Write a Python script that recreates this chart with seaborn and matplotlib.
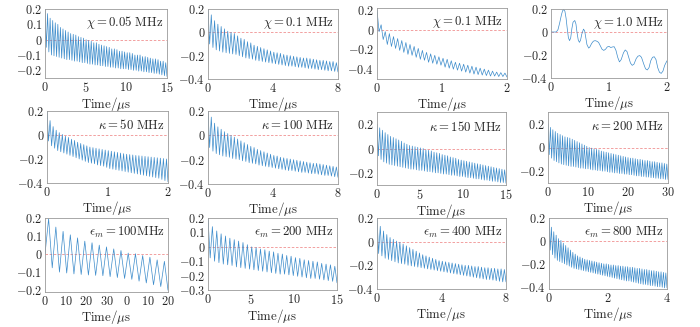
import numpy as np
import pandas as pd
import matplotlib
matplotlib.use("Agg")
import matplotlib.pyplot as plt
import seaborn as sns

# ---------------- signal extrema (successive peak / trough values) ----------------
chi005_peaks = [0.2, 0.17, 0.14, 0.125, 0.11, 0.1, 0.08, 0.07,
                0.06, 0.05, 0.04, 0.035, 0.03, 0.02, 0.015, 0.01,
                0.0, -0.005, -0.01, -0.02, -0.02, -0.03, -0.035, -0.04,
                -0.045, -0.05, -0.06, -0.06, -0.065, -0.075, -0.075, -0.08,
                -0.085, -0.085, -0.09, -0.1, -0.1, -0.1, -0.11, -0.11,
                -0.115, -0.12, -0.125, -0.125, -0.13, -0.14, -0.14, -0.15]
chi005_troughs = [-0.05, -0.08, -0.1, -0.105, -0.11, -0.115, -0.12, -0.125,
                  -0.13, -0.13, -0.135, -0.14, -0.14, -0.145, -0.15, -0.15,
                  -0.155, -0.16, -0.16, -0.165, -0.165, -0.17, -0.17, -0.175,
                  -0.175, -0.18, -0.18, -0.185, -0.185, -0.19, -0.19, -0.19,
                  -0.195, -0.195, -0.2, -0.2, -0.205, -0.205, -0.21, -0.21,
                  -0.215, -0.215, -0.22, -0.22, -0.225, -0.23, -0.235, -0.24]

chi01a_peaks = [0.2, 0.15, 0.10, 0.07, 0.05, 0.03, 0.01, 0.0, -0.01, -0.03,
                -0.05, -0.06, -0.08, -0.09, -0.11, -0.12, -0.13, -0.14, -0.15, -0.16,
                -0.17, -0.175, -0.18, -0.19, -0.195, -0.2, -0.205, -0.21, -0.215, -0.22,
                -0.22, -0.225, -0.23, -0.235, -0.24, -0.24, -0.245, -0.25, -0.25, -0.26]
chi01a_troughs = [-0.1, -0.13, -0.15, -0.16, -0.17, -0.175, -0.18, -0.185, -0.19, -0.2,
                  -0.21, -0.22, -0.225, -0.23, -0.24, -0.245, -0.25, -0.255, -0.26, -0.265,
                  -0.27, -0.275, -0.28, -0.285, -0.29, -0.29, -0.295, -0.3, -0.3, -0.305,
                  -0.31, -0.31, -0.315, -0.32, -0.32, -0.325, -0.33, -0.33, -0.335, -0.34]

chi01b_peaks = [0.2, 0.05, -0.02, -0.04, -0.07, -0.09, -0.11, -0.13,
                -0.15, -0.17, -0.19, -0.21, -0.23, -0.245, -0.26, -0.275,
                -0.29, -0.3, -0.315, -0.33, -0.34, -0.35, -0.36, -0.37,
                -0.38, -0.39, -0.4, -0.41, -0.42, -0.43, -0.435, -0.44]
chi01b_troughs = [-0.02, -0.1, -0.15, -0.17, -0.19, -0.21, -0.23, -0.25,
                  -0.26, -0.28, -0.3, -0.31, -0.33, -0.34, -0.35, -0.36,
                  -0.38, -0.39, -0.4, -0.41, -0.42, -0.43, -0.44, -0.45,
                  -0.455, -0.46, -0.465, -0.47, -0.47, -0.475, -0.475, -0.48]

chi10_time = [0, 0.05, 0.09, 0.12, 0.15, 0.18, 0.2, 0.22, 0.24, 0.26, 0.28, 0.3, 0.32,
              0.34, 0.36, 0.38, 0.41, 0.43, 0.45, 0.47, 0.49, 0.51, 0.53, 0.56, 0.58,
              0.6, 0.62, 0.65, 0.67, 0.7, 0.73, 0.76, 0.79, 0.82, 0.85, 0.88, 0.91,
              0.94, 0.97, 1.0, 1.03, 1.06, 1.09, 1.12, 1.15, 1.18, 1.21, 1.25, 1.28,
              1.31, 1.34, 1.37, 1.4, 1.43, 1.47, 1.5, 1.53, 1.56, 1.6, 1.63, 1.66,
              1.69, 1.72, 1.75, 1.78, 1.81, 1.84, 1.87, 1.9, 1.93, 1.96, 2.0]
chi10_signal = [0, 0, 0.0, 0.02, 0.08, 0.15, 0.185, 0.195, 0.18, 0.12, 0.03, -0.05, -0.075,
                -0.05, 0.03, 0.085, 0.1, 0.07, -0.01, -0.07, -0.09, -0.07, -0.02, 0.025, 0.01,
                -0.05, -0.11, -0.14, -0.13, -0.1, -0.08, -0.075, -0.08, -0.09, -0.12, -0.15, -0.16,
                -0.15, -0.13, -0.125, -0.135, -0.13, -0.128, -0.16, -0.22, -0.26, -0.24, -0.18, -0.156,
                -0.17, -0.22, -0.27, -0.29, -0.28, -0.23, -0.21, -0.205, -0.22, -0.28, -0.32, -0.33,
                -0.31, -0.25, -0.22, -0.215, -0.24, -0.31, -0.35, -0.36, -0.34, -0.29, -0.25]

kap50_peaks = [0.2, 0.12, 0.07, 0.04, 0.02, 0.005, -0.01, -0.02, -0.035, -0.045,
               -0.06, -0.07, -0.08, -0.09, -0.1, -0.105, -0.11, -0.115, -0.12, -0.125,
               -0.13, -0.135, -0.14, -0.145, -0.15, -0.155, -0.16, -0.163, -0.166, -0.17,
               -0.172, -0.175, -0.178, -0.181, -0.184, -0.187, -0.19, -0.193, -0.196, -0.2]
kap50_troughs = [-0.05, -0.09, -0.11, -0.13, -0.14, -0.15, -0.16, -0.17, -0.18, -0.19,
                 -0.2, -0.21, -0.22, -0.23, -0.235, -0.24, -0.25, -0.255, -0.26, -0.27,
                 -0.28, -0.285, -0.29, -0.295, -0.3, -0.305, -0.31, -0.315, -0.32, -0.325,
                 -0.33, -0.335, -0.34, -0.345, -0.35, -0.355, -0.36, -0.37, -0.38, -0.39]

kap100_peaks = [0.2, 0.15, 0.1, 0.07, 0.05, 0.03, 0.015, 0.0, -0.015, -0.03,
                -0.045, -0.06, -0.075, -0.09, -0.1, -0.115, -0.125, -0.135, -0.145, -0.155,
                -0.165, -0.17, -0.18, -0.185, -0.19, -0.195, -0.2, -0.205, -0.21, -0.215,
                -0.22, -0.225, -0.23, -0.23, -0.235, -0.24, -0.245, -0.25, -0.255, -0.26]
kap100_troughs = [-0.1, -0.13, -0.15, -0.16, -0.17, -0.175, -0.18, -0.19, -0.195, -0.2,
                  -0.21, -0.215, -0.225, -0.23, -0.235, -0.245, -0.25, -0.255, -0.26, -0.265,
                  -0.27, -0.275, -0.28, -0.285, -0.29, -0.29, -0.295, -0.3, -0.305, -0.305,
                  -0.31, -0.315, -0.315, -0.32, -0.325, -0.33, -0.33, -0.335, -0.34, -0.345]

kap150_peaks = [0.2, 0.17, 0.15, 0.13, 0.115, 0.1, 0.09, 0.08,
                0.07, 0.06, 0.045, 0.035, 0.025, 0.02, 0.015, 0.01,
                0.005, 0.0, -0.01, -0.015, -0.02, -0.03, -0.035, -0.04,
                -0.05, -0.055, -0.06, -0.07, -0.075, -0.08, -0.09, -0.095,
                -0.1, -0.105, -0.11, -0.115, -0.12, -0.125, -0.13, -0.135,
                -0.14, -0.145, -0.15, -0.155, -0.16, -0.165, -0.17, -0.175]
kap150_troughs = [-0.06, -0.09, -0.11, -0.12, -0.13, -0.135, -0.14, -0.145,
                  -0.15, -0.155, -0.16, -0.165, -0.17, -0.17, -0.175, -0.18,
                  -0.18, -0.185, -0.19, -0.19, -0.195, -0.2, -0.2, -0.205,
                  -0.21, -0.21, -0.215, -0.22, -0.22, -0.225, -0.23, -0.23,
                  -0.235, -0.24, -0.24, -0.245, -0.25, -0.25, -0.255, -0.26,
                  -0.26, -0.265, -0.27, -0.27, -0.275, -0.28, -0.28, -0.285]

kap200_peaks = [0.2, 0.17, 0.15, 0.135, 0.12, 0.11, 0.1, 0.09, 0.085, 0.08,
                0.07, 0.06, 0.05, 0.04, 0.03, 0.02, 0.01, 0.0, -0.005, -0.01,
                -0.015, -0.02, -0.03, -0.035, -0.04, -0.045, -0.05, -0.055, -0.06, -0.065,
                -0.07, -0.075, -0.08, -0.085, -0.09, -0.09, -0.095, -0.1, -0.1, -0.105,
                -0.11, -0.11, -0.115, -0.12, -0.12, -0.125, -0.13, -0.13, -0.135, -0.14]
kap200_troughs = [-0.06, -0.09, -0.11, -0.12, -0.13, -0.14, -0.145, -0.15, -0.155, -0.16,
                  -0.16, -0.165, -0.17, -0.175, -0.175, -0.18, -0.18, -0.185, -0.19, -0.19,
                  -0.195, -0.195, -0.2, -0.2, -0.205, -0.21, -0.21, -0.215, -0.215, -0.22,
                  -0.22, -0.225, -0.225, -0.23, -0.23, -0.235, -0.24, -0.24, -0.245, -0.245,
                  -0.25, -0.25, -0.255, -0.255, -0.26, -0.26, -0.265, -0.265, -0.27, -0.27]

eps100_signal = [0.0,
                 0.196, -0.076, 0.15, -0.1, 0.126, -0.105, 0.107, -0.11, 0.09, -0.113,
                 0.072, -0.116, 0.063, -0.118, 0.05, -0.12, 0.04, -0.125, 0.029, -0.13,
                 0.02, -0.135, 0.006, -0.14, 0.002, -0.15, -0.008, -0.16, -0.017, -0.17,
                 -0.032, -0.18, -0.04, -0.2]

eps200_peaks = [0.2, 0.14, 0.11, 0.09, 0.075, 0.06, 0.05, 0.04, 0.03, 0.015,
                0.0, -0.005, -0.015, -0.02, -0.03, -0.035, -0.045, -0.05, -0.06, -0.065,
                -0.075, -0.08, -0.09, -0.095, -0.1, -0.105, -0.115, -0.12, -0.125, -0.135]
eps200_troughs = [-0.077, -0.1, -0.11, -0.12, -0.125, -0.13, -0.14, -0.145, -0.15, -0.155,
                  -0.16, -0.165, -0.17, -0.175, -0.18, -0.185, -0.19, -0.19, -0.195, -0.2,
                  -0.205, -0.21, -0.215, -0.22, -0.22, -0.225, -0.23, -0.235, -0.24, -0.25]

eps400_peaks = [0.2, 0.13, 0.09, 0.06, 0.035, 0.02, 0.005, -0.005, -0.02, -0.035,
                -0.05, -0.065, -0.08, -0.095, -0.11, -0.12, -0.13, -0.14, -0.15, -0.16,
                -0.165, -0.17, -0.175, -0.18, -0.185, -0.19, -0.195, -0.2, -0.2, -0.205,
                -0.21, -0.21, -0.215, -0.22, -0.22, -0.225, -0.225, -0.23, -0.23, -0.235]
eps400_troughs = [-0.1, -0.12, -0.14, -0.15, -0.16, -0.17, -0.18, -0.185, -0.19, -0.2,
                  -0.205, -0.21, -0.215, -0.22, -0.225, -0.23, -0.235, -0.24, -0.245, -0.25,
                  -0.255, -0.26, -0.265, -0.27, -0.275, -0.28, -0.285, -0.29, -0.295, -0.3,
                  -0.305, -0.31, -0.315, -0.32, -0.32, -0.325, -0.33, -0.335, -0.34, -0.34]

eps800_peaks = [0.2, 0.12, 0.08, 0.05, 0.02, 0.005, -0.02, -0.04, -0.06, -0.08,
                -0.1, -0.115, -0.13, -0.14, -0.15, -0.16, -0.165, -0.17, -0.175, -0.18,
                -0.185, -0.19, -0.195, -0.2, -0.2, -0.205, -0.21, -0.21, -0.215, -0.215,
                -0.22, -0.22, -0.225, -0.225, -0.23, -0.23, -0.235, -0.24, -0.24, -0.245,
                -0.25, -0.25, -0.255, -0.26, -0.26, -0.265, -0.27, -0.27, -0.275, -0.28]
eps800_troughs = [-0.08, -0.12, -0.15, -0.17, -0.18, -0.19, -0.2, -0.21, -0.22, -0.23,
                  -0.24, -0.245, -0.25, -0.255, -0.26, -0.265, -0.27, -0.275, -0.28, -0.285,
                  -0.29, -0.295, -0.3, -0.305, -0.31, -0.315, -0.32, -0.325, -0.33, -0.335,
                  -0.34, -0.345, -0.35, -0.35, -0.355, -0.36, -0.365, -0.37, -0.375, -0.38,
                  -0.38, -0.385, -0.39, -0.39, -0.395, -0.4, -0.4, -0.405, -0.41, -0.41]

# ---------------- panel annotations and axes ----------------
panel_labels = [r"$\chi=0.05\ \mathrm{MHz}$", r"$\chi=0.1\ \mathrm{MHz}$",
                r"$\chi=0.1\ \mathrm{MHz}$", r"$\chi=1.0\ \mathrm{MHz}$",
                r"$\kappa=50\ \mathrm{MHz}$", r"$\kappa=100\ \mathrm{MHz}$",
                r"$\kappa=150\ \mathrm{MHz}$", r"$\kappa=200\ \mathrm{MHz}$",
                r"$\epsilon_m=100\mathrm{MHz}$", r"$\epsilon_m=200\ \mathrm{MHz}$",
                r"$\epsilon_m=400\ \mathrm{MHz}$", r"$\epsilon_m=800\ \mathrm{MHz}$"]
time_spans = [15, 8, 2, 2, 2, 8, 15, 30, 20, 15, 8, 4]
x_ticks = [[0, 5, 10, 15], [0, 4, 8], [0, 1, 2], [0, 1, 2],
           [0, 1, 2], [0, 4, 8], [0, 5, 10, 15], [0, 10, 20, 30],
           None, [0, 5, 10, 15], [0, 4, 8], [0, 2, 4]]
eps100_xtick_labels = ["0", "10", "20", "30", "0", "10", "20"]
y_ticks = [[-0.2, -0.1, 0, 0.1, 0.2], [-0.4, -0.2, 0, 0.2], [-0.4, -0.2, 0, 0.2], [-0.4, -0.2, 0, 0.2],
           [-0.4, -0.2, 0, 0.2], [-0.4, -0.2, 0, 0.2], [-0.2, 0, 0.2], [-0.2, 0, 0.2],
           [-0.2, -0.1, 0, 0.1, 0.2], [-0.3, -0.2, -0.1, 0, 0.1, 0.2], [-0.4, -0.2, 0, 0.2], [-0.4, -0.2, 0, 0.2]]
y_limits = [(-0.25, 0.2), (-0.4, 0.2), (-0.5, 0.22), (-0.4, 0.2),
            (-0.4, 0.2), (-0.4, 0.2), (-0.3, 0.3), (-0.3, 0.3),
            (-0.21, 0.2), (-0.3, 0.2), (-0.4, 0.2), (-0.42, 0.2)]


def sawtooth(peaks, troughs, span):
    y = np.empty(len(peaks) + len(troughs))
    y[0::2] = peaks
    y[1::2] = troughs
    return np.linspace(0, span, y.size), y


curves = [
    sawtooth(chi005_peaks, chi005_troughs, time_spans[0]),
    sawtooth(chi01a_peaks, chi01a_troughs, time_spans[1]),
    sawtooth(chi01b_peaks, chi01b_troughs, time_spans[2]),
    (np.array(chi10_time), np.array(chi10_signal)),
    sawtooth(kap50_peaks, kap50_troughs, time_spans[4]),
    sawtooth(kap100_peaks, kap100_troughs, time_spans[5]),
    sawtooth(kap150_peaks, kap150_troughs, time_spans[6]),
    sawtooth(kap200_peaks, kap200_troughs, time_spans[7]),
    (np.linspace(0, time_spans[8], len(eps100_signal)), np.array(eps100_signal)),
    sawtooth(eps200_peaks, eps200_troughs, time_spans[9]),
    sawtooth(eps400_peaks, eps400_troughs, time_spans[10]),
    sawtooth(eps800_peaks, eps800_troughs, time_spans[11]),
]

# ---------------- styling ----------------
sns.set_style("white")
plt.rcParams["mathtext.fontset"] = "cm"
plt.rcParams["font.family"] = ["DejaVu Serif"]

W, H = 700, 327
# axes boxes in pixels: left, top, right, bottom
boxes = [(45, 9, 167, 78), (208, 9, 338, 79), (377, 8, 507, 79), (551, 9, 667, 78),
         (47, 111, 168, 183), (208, 111, 338, 184), (377, 112, 506, 185), (548, 112, 668, 183),
         (45, 218, 168, 292), (208, 218, 337, 290), (377, 218, 506, 289), (549, 218, 667, 289)]

LINE = "#3d8ccb"
ZERO = "#f09090"
FRAME = "#9a9a9a"


def fmt(v):
    return "$0$" if v == 0 else f"${v:g}$"


fig = plt.figure(figsize=(W / 100, H / 100), dpi=100)
for i, (l, t, r, b) in enumerate(boxes):
    ax = fig.add_axes([l / W, 1 - b / H, (r - l) / W, (b - t) / H])
    tt, yy = curves[i]
    df = pd.DataFrame({"t": tt, "s": yy})
    ax.axhline(0, ls=(0, (3, 2)), color=ZERO, lw=0.6, zorder=1)
    sns.lineplot(data=df, x="t", y="s", ax=ax, color=LINE, lw=0.5,
                 estimator=None, sort=False, zorder=2)
    ax.set_xlim(0, time_spans[i])
    ax.set_ylim(*y_limits[i])
    if x_ticks[i] is None:
        xt = np.linspace(0, time_spans[i], len(eps100_xtick_labels))
        ax.set_xticks(xt)
        ax.set_xticklabels([f"${s}$" for s in eps100_xtick_labels])
    else:
        ax.set_xticks(x_ticks[i])
        ax.set_xticklabels([fmt(v) for v in x_ticks[i]])
    ax.set_yticks(y_ticks[i])
    ax.set_yticklabels([fmt(v) for v in y_ticks[i]])
    ax.tick_params(direction="in", length=2, width=0.5, color=FRAME,
                   labelsize=8.8, pad=2, top=False, right=False)
    for sp in ax.spines.values():
        sp.set_color(FRAME)
        sp.set_linewidth(0.6)
    ax.set_xlabel(r"$\mathrm{Time}/\mu\mathrm{s}$", fontsize=9.3, labelpad=0.5)
    ax.set_ylabel("")
    ax.text(0.97, 0.8, panel_labels[i], transform=ax.transAxes, ha="right",
            va="center", fontsize=9.2)

fig.savefig("out.png", dpi=100, facecolor="white")
